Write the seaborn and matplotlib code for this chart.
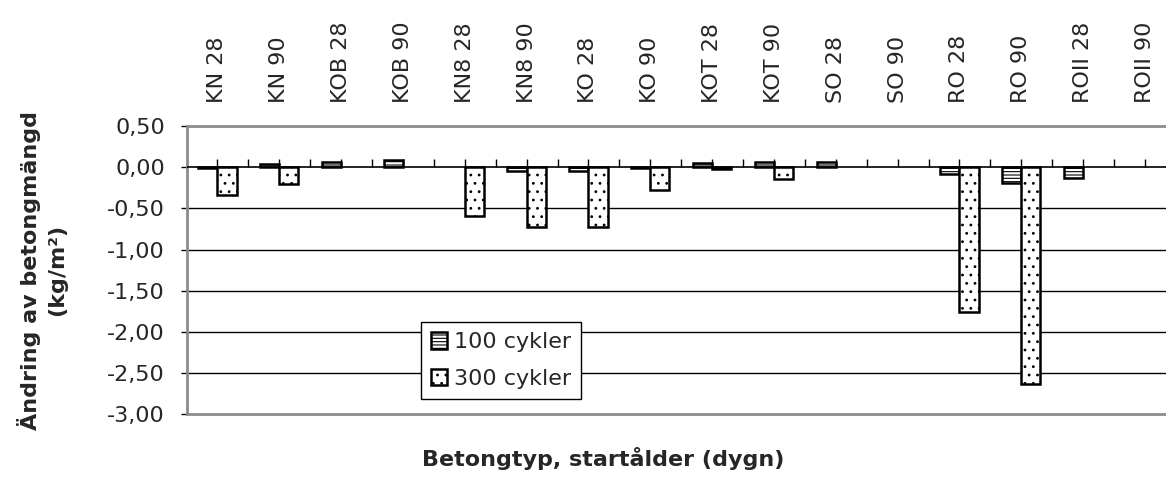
import numpy as np
import pandas as pd
import matplotlib
matplotlib.use("Agg")
import matplotlib.pyplot as plt
import matplotlib.transforms as mtransforms
from matplotlib.patches import Patch
import seaborn as sns

# categories (betongtyp, startålder) and the two series
categories = ["KN 28", "KN 90", "KOB 28", "KOB 90", "KN8 28", "KN8 90", "KO 28", "KO 90",
              "KOT 28", "KOT 90", "SO 28", "SO 90", "RO 28", "RO 90", "ROII 28", "ROII 90"]
series = ["100 cykler", "300 cykler"]
cyc100 = [-0.01, 0.04, 0.06, 0.09, np.nan, -0.04, -0.04, -0.01,
          0.05, 0.06, 0.06, np.nan, -0.08, -0.19, -0.13, np.nan]
cyc300 = [-0.34, -0.20, np.nan, np.nan, -0.59, -0.72, -0.72, -0.28,
          -0.02, -0.14, np.nan, np.nan, -1.76, -2.63, np.nan, np.nan]
yticks = [0.5, 0.0, -0.5, -1.0, -1.5, -2.0, -2.5, -3.0]

df = pd.DataFrame({
    "kategori": categories * 2,
    "serie": [series[0]] * len(categories) + [series[1]] * len(categories),
    "varde": cyc100 + cyc300,
})

sns.set_style("white")
plt.rcParams["font.family"] = ["DejaVu Sans"]
plt.rcParams["hatch.linewidth"] = 0.8
FS = 16

fig = plt.figure(figsize=(11.66, 4.93), dpi=100)
ax = fig.add_axes([0.160, 0.160, 0.840, 0.584])

sns.barplot(data=df.dropna(), x="kategori", y="varde", hue="serie",
            order=categories, hue_order=series, width=0.62, gap=0,
            errorbar=None, legend=False, ax=ax)

hatches = ["-----", ".."]
for cont, h in zip(ax.containers, hatches):
    for bar in cont:
        bar.set_facecolor("white")
        bar.set_edgecolor("black")
        bar.set_linewidth(1.8)
        bar.set_hatch(h)
        bar.set_zorder(3)

ax.set_xlim(-0.5, 15.34)
ax.set_ylim(-3.0, 0.5)
ax.set_yticks(yticks)
ax.set_yticklabels([f"{v:.2f}".replace(".", ",") for v in yticks], fontsize=FS)
ax.tick_params(axis="y", direction="out", length=4.5, width=1, color="black", pad=11, left=True)
ax.set_xticks([])
ax.set_xlabel("")
ax.set_ylabel("")

for y in yticks[2:-1]:
    ax.axhline(y, color="black", lw=1.0, zorder=1)
ax.axhline(0, color="black", lw=1.2, zorder=4)
ax.vlines(np.arange(-0.5, 15.5, 0.5), 0, 0.1, color="black", lw=1.0, zorder=2)

for side in ["left", "top", "bottom"]:
    ax.spines[side].set_color("#8c8c8c")
    ax.spines[side].set_linewidth(2)
ax.spines["right"].set_visible(False)

# category labels above the plot
trans = mtransforms.blended_transform_factory(ax.transData, ax.transAxes)
for i, c in enumerate(categories):
    ax.text(i, 1.08, c, rotation=90, ha="center", va="bottom", fontsize=FS, transform=trans)

handles = [Patch(facecolor="white", edgecolor="black", hatch=h, linewidth=1.8) for h in hatches]
leg = ax.legend(handles, series, loc="upper left", bbox_to_anchor=(0.239, 0.319),
                borderaxespad=0, fontsize=FS, handlelength=0.75, handleheight=0.75,
                handletextpad=0.3, borderpad=0.45, labelspacing=0.75,
                frameon=True, fancybox=False, edgecolor="black", framealpha=1)
leg.get_frame().set_linewidth(1.0)
leg.set_zorder(5)

fig.text(42 / 1166, 1 - 270 / 493, "Ändring av betongmängd\n(kg/m²)", rotation=90,
         ha="center", va="center", fontsize=FS, fontweight="bold", linespacing=1.4)
fig.text(603 / 1166, 1 - 459 / 493, "Betongtyp, startålder (dygn)",
         ha="center", va="center", fontsize=FS, fontweight="bold")

fig.savefig("out.png", dpi=100)
